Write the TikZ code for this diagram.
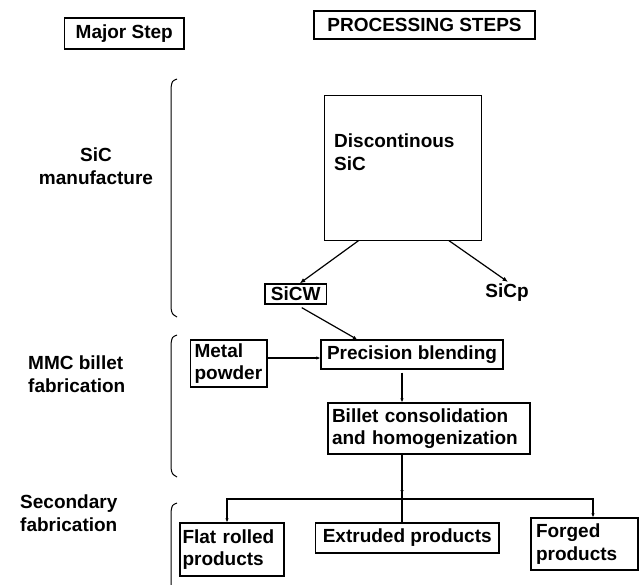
\documentclass[tikz,border=0pt]{standalone}
\usepackage{fontspec}
\setmainfont{Liberation Sans}
\usetikzlibrary{arrows.meta,calc}
\begin{document}
\begin{tikzpicture}[x=1pt,y=-1pt,
  every node/.style={font=\fontsize{19}{22.5}\selectfont\bfseries},
  box/.style={draw, line width=1.3pt, inner xsep=4pt, inner ysep=0pt},
  lbl/.style={inner sep=0pt},
  arr/.style={line width=1.2pt, -{Latex[length=5.5pt,width=4.5pt]}},
  tip/.style={line width=1.2pt, -{Latex[length=4pt,width=3.5pt]}},
  brace/.style={line width=1pt}]
\useasboundingbox (0,0) rectangle (639,585);

% headers
\node[box, minimum width=119.5pt, minimum height=31pt] (major) at (124.25,33.5) {Major Step};
\node[box, minimum width=221pt, minimum height=28pt] (proc) at (424.5,25) {PROCESSING STEPS};

% left labels
\node[lbl, align=center] (l1) at (96,166) {SiC\\manufacture};
\node[lbl, align=left, anchor=west] (l2) at (28,374) {MMC billet\\fabrication};
\node[lbl, align=left, anchor=west] (l3) at (20,513) {Secondary\\fabrication};

% brackets
\draw[brace] (177,79) .. controls (172,81) .. (171,88) -- (171,308) .. controls (172,314) .. (177,317);
\draw[brace] (177,335) .. controls (172,337) .. (171,344) -- (171,468) .. controls (172,474) .. (177,477);
\draw[brace] (177,503) .. controls (172,505) .. (171,512) -- (171,586);

% SiC boxes
\node[box, line width=1pt, minimum width=156.5pt, minimum height=144pt] (disc) at (402.75,168) {};
\node[lbl, align=left, anchor=north west] (disctext) at (334,134) {Discontinous\\SiC};
\node[box, minimum width=61.5pt, minimum height=20pt, inner xsep=1pt] (sicw) at (295.75,294) {SiCW};
\node[lbl] (sicp) at (507,293) {SiCp};

% MMC billet
\node[box, minimum width=76.4pt, minimum height=47pt, text width=68.4pt, align=left] (metal) at (228.8,363.5) {Metal\\powder};
\node[box, minimum width=182pt, minimum height=29pt] (blend) at (412,354.5) {Precision blending};
\node[box, minimum width=202pt, minimum height=51pt, text width=194pt, align=left] (billet) at (429,428.5) {Billet consolidation\\and homogenization};

% products
\node[box, minimum width=104pt, minimum height=53pt, inner xsep=2.5pt, text width=99pt, align=left] (flat) at (232,549.5) {Flat rolled\\products};
\node[box, minimum width=183.5pt, minimum height=30pt] (extr) at (407.25,538) {Extruded products};
\node[box, minimum width=107pt, minimum height=52pt, inner xsep=5pt, text width=97pt, align=left] (forged) at (584.5,544) {Forged\\products};

% connectors
\draw[arr] ([xshift=-44pt]disc.south) -- ([xshift=4pt]sicw.north);
\draw[arr] ([xshift=46pt]disc.south) -- ([xshift=1pt,yshift=2pt]sicp.north);
\draw[tip] ([xshift=6pt,yshift=-3pt]sicw.south) -- ([xshift=-55pt]blend.north);
\draw[tip] ([yshift=5.5pt]metal.east) -- ([yshift=5.5pt]metal.east -| blend.west);

\coordinate (j) at (402,499);
\draw[tip] ([yshift=-3pt]blend.south -| j) -- (billet.north -| j);
\draw[line width=1.2pt] (billet.south -| j) -- (extr.north -| j);
\draw[tip] (billet.south -| j) -- ([yshift=5pt]j);
\draw[tip] (j) -| ([xshift=-5pt]flat.north);
\draw[tip] (j) -| ([xshift=8.5pt]forged.north);
\end{tikzpicture}
\end{document}
